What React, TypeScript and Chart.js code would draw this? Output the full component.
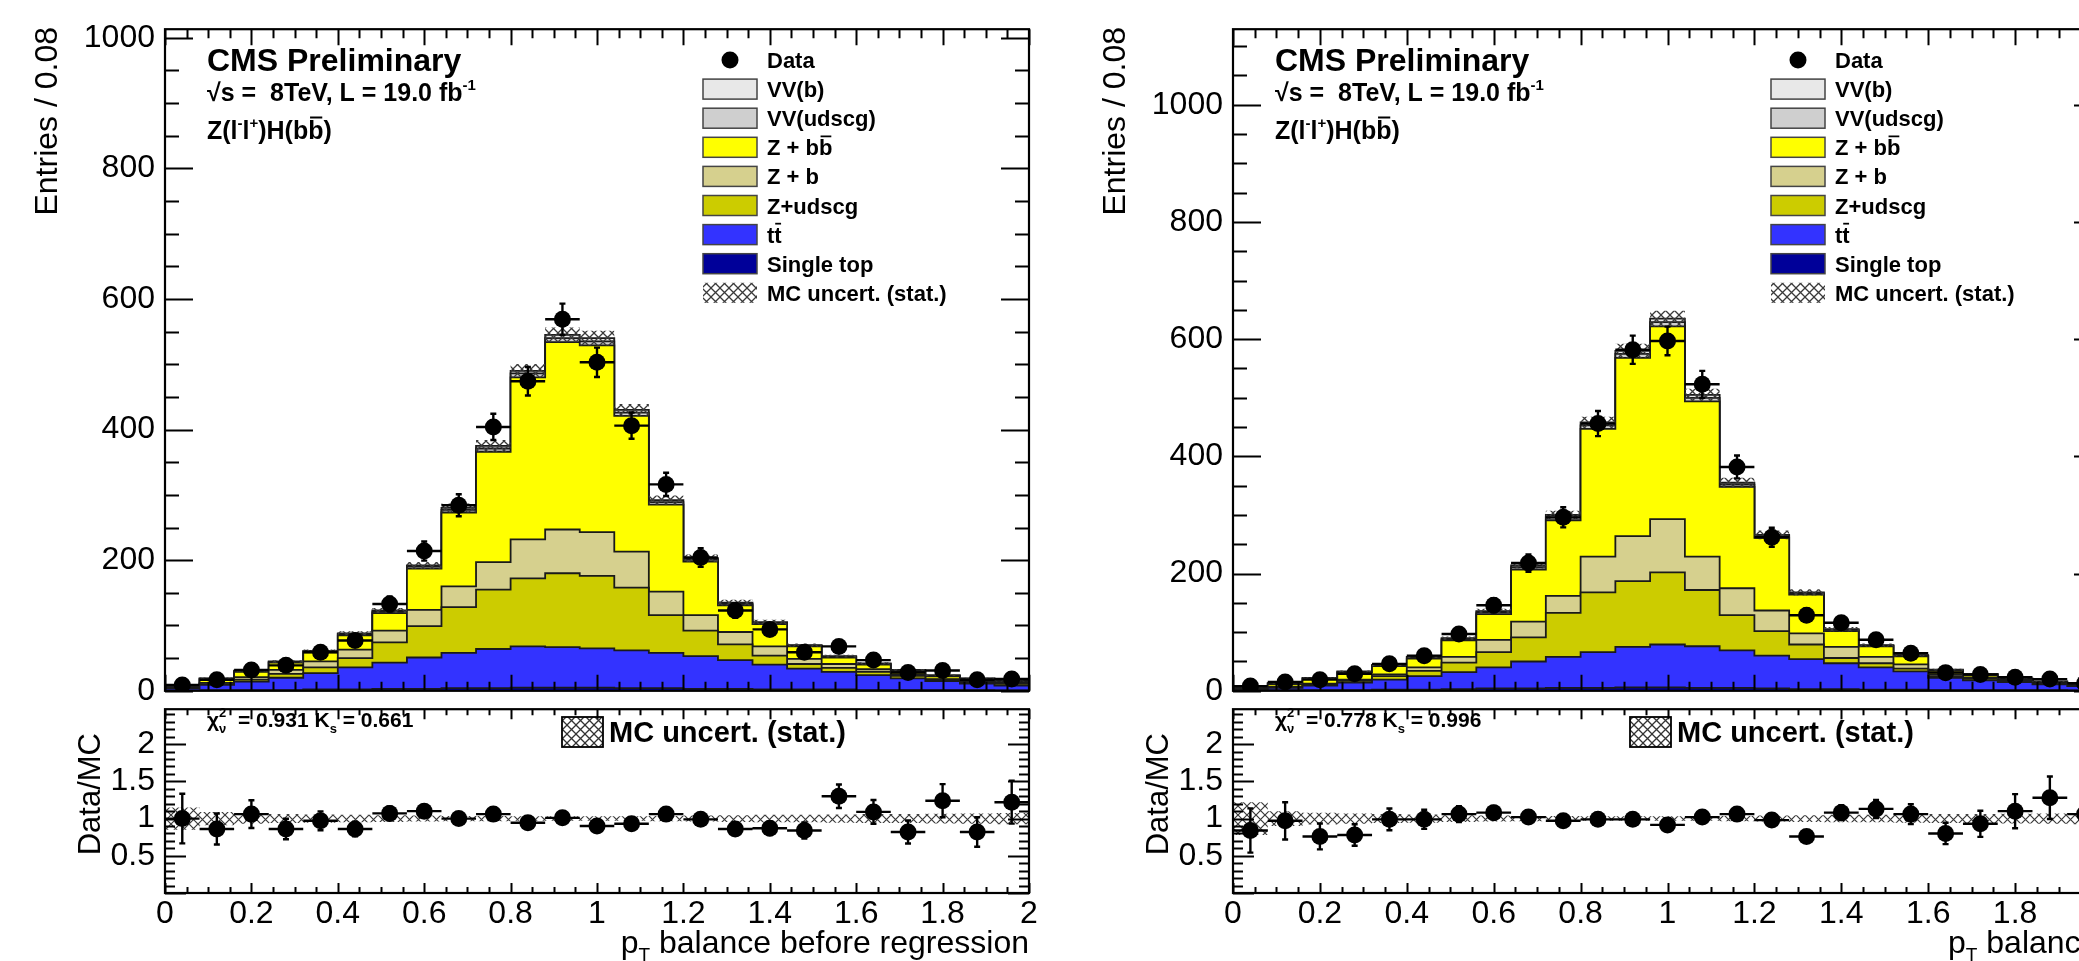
import React, { useEffect, useRef } from 'react';
import { Chart, registerables } from 'chart.js';

Chart.register(...registerables);

const FONT = "'Liberation Sans', Arial, Helvetica, sans-serif";

// ---------- binning (25 bins of 0.08) ----------
const BIN_EDGES = [0, 0.08, 0.16, 0.24, 0.32, 0.4, 0.48, 0.56, 0.64, 0.72, 0.8, 0.88, 0.96, 1.04, 1.12, 1.2, 1.28, 1.36, 1.44, 1.52, 1.6, 1.68, 1.76, 1.84, 1.92, 2.0];
const BIN_CENTERS = [0.04, 0.12, 0.2, 0.28, 0.36, 0.44, 0.52, 0.6, 0.68, 0.76, 0.84, 0.92, 1.0, 1.08, 1.16, 1.24, 1.32, 1.4, 1.48, 1.56, 1.64, 1.72, 1.8, 1.88, 1.96];
const BIN_HALF = 0.04;

// ---------- p_T balance before regression ----------
const BEFORE_SINGLE_TOP = [0.5, 1, 1, 1, 2, 2, 3, 3, 4, 4, 5, 5, 5, 4, 4, 3, 3, 2, 2, 2, 1, 1, 1, 1, 0.5];
const BEFORE_TTBAR = [3.5, 8, 13, 19, 25, 34, 40, 48, 54, 60, 63, 62, 60, 58, 54, 50, 44, 38, 32, 27, 23, 18, 14, 10, 7.5];
const BEFORE_Z_UDSCG = [0.5, 1, 3, 6, 9, 14, 31, 48, 70, 91, 104, 113, 111, 96, 58, 39, 24, 14, 7, 6, 5, 4, 2, 2, 2.5];
const BEFORE_Z_B = [0.5, 2, 4, 6, 9, 13, 18, 25, 32, 42, 60, 67, 67, 55, 36, 24, 19, 14, 8, 6, 4, 2, 1, 1, 0.5];
const BEFORE_Z_BB = [2, 5.5, 8, 11, 14, 22, 27, 63, 113, 169, 248, 287, 286, 208, 133, 82, 41, 34, 19, 10, 7, 5, 4, 3.5, 2.5];
const BEFORE_VV_UDSCG = [0.5, 1, 1, 1, 1, 2, 2, 3, 4, 5, 6, 6, 6, 5, 4, 3, 2, 2, 1, 1, 1, 1, 1, 1, 1];
const BEFORE_VV_B = [0.5, 0.5, 1, 1, 1, 1, 2, 2, 3, 4, 4, 5, 5, 4, 3, 2, 2, 1, 1, 1, 1, 1, 1, 0.5, 0.5];
const BEFORE_DATA = [9, 17, 32, 39, 59, 77, 133, 214, 284, 404, 474, 569, 503, 406, 316, 204, 123, 94, 59, 68, 47, 28, 31, 17, 18];
const BEFORE_RATIO = [1.0, 0.86, 1.06, 0.86, 0.97, 0.86, 1.07, 1.1, 1.0, 1.06, 0.945, 1.01, 0.9, 0.93, 1.06, 0.99, 0.86, 0.87, 0.84, 1.3, 1.09, 0.82, 1.24, 0.82, 1.22];
const BEFORE_MC_REL_ERR = [0.15, 0.09, 0.07, 0.06, 0.055, 0.05, 0.045, 0.04, 0.035, 0.035, 0.03, 0.03, 0.03, 0.03, 0.035, 0.04, 0.045, 0.05, 0.05, 0.055, 0.06, 0.06, 0.065, 0.07, 0.075];

// ---------- p_T balance after regression ----------
const AFTER_SINGLE_TOP = [0.5, 1, 1, 1, 2, 2, 3, 4, 4, 5, 5, 6, 6, 5, 5, 4, 3, 3, 2, 2, 1, 1, 1, 1, 0.5];
const AFTER_TTBAR = [2.5, 4, 8, 13, 17, 23, 29, 36, 46, 53, 61, 69, 73, 71, 64, 56, 51, 44, 38, 31, 21, 17, 14, 10, 7.5];
const AFTER_Z_UDSCG = [0.5, 1, 2, 3, 6, 9, 16, 26, 41, 75, 102, 112, 123, 96, 60, 42, 25, 9, 7, 5, 3, 3, 2, 1, 1];
const AFTER_Z_B = [0.5, 1, 1, 2, 3, 6, 10, 21, 27, 29, 61, 77, 91, 57, 46, 35, 19, 19, 11, 7, 3, 2, 1, 1, 1];
const AFTER_Z_BB = [2, 4.5, 8, 12, 14, 15, 28, 44, 89, 129, 218, 304, 329, 265, 173, 124, 66, 27, 18, 14, 6, 4, 1.5, 1.5, 1];
const AFTER_VV_UDSCG = [0.5, 1, 1, 1, 1, 2, 2, 3, 4, 5, 6, 7, 7, 6, 4, 3, 2, 2, 1, 1, 1, 1, 1, 1, 0.5];
const AFTER_VV_B = [0.5, 0.5, 1, 1, 1, 1, 2, 2, 3, 4, 5, 5, 6, 5, 3, 2, 2, 1, 1, 1, 1, 1, 0.5, 0.5, 0.5];
const AFTER_DATA = [8, 15, 19, 29, 46, 60, 97, 146, 218, 296, 456, 582, 597, 523, 382, 262, 129, 116, 87, 64, 31, 28, 23, 20, 13];
const AFTER_RATIO = [0.84, 0.97, 0.76, 0.78, 0.99, 0.99, 1.06, 1.08, 1.02, 0.97, 0.99, 0.99, 0.915, 1.02, 1.06, 0.98, 0.76, 1.08, 1.13, 1.06, 0.8, 0.93, 1.1, 1.28, 1.06];
const AFTER_MC_REL_ERR = [0.22, 0.1, 0.08, 0.07, 0.06, 0.055, 0.045, 0.04, 0.035, 0.035, 0.03, 0.03, 0.03, 0.03, 0.035, 0.04, 0.045, 0.05, 0.05, 0.055, 0.06, 0.06, 0.065, 0.07, 0.075];

// ---------- axis tick labels ----------
const MAIN_Y_TICKS = [0, 200, 400, 600, 800, 1000];
const RATIO_Y_TICKS = [0.5, 1, 1.5, 2];
const X_TICKS = [0, 0.2, 0.4, 0.6, 0.8, 1, 1.2, 1.4, 1.6, 1.8, 2];

// stack colours, bottom to top
const STACK_COLORS = ['#000099', '#3333ff', '#cccc00', '#d6d08e', '#ffff00', '#cfcfcf', '#e8e8e8'];

type Spec = {
  components: number[][];
  data: number[];
  ratio: number[];
  mcRelErr: number[];
  yMax: number;
  chi2: string;
  ks: string;
  xTitle: string;
};

type Geo = {
  canvasLeft: number;
  canvasWidth: number;
  frameLeft: number;
  frameRight: number;
  xTitleAlign: 'left' | 'right';
  xTitleX: number;
};

const BEFORE: Spec = {
  components: [BEFORE_SINGLE_TOP, BEFORE_TTBAR, BEFORE_Z_UDSCG, BEFORE_Z_B, BEFORE_Z_BB, BEFORE_VV_UDSCG, BEFORE_VV_B],
  data: BEFORE_DATA,
  ratio: BEFORE_RATIO,
  mcRelErr: BEFORE_MC_REL_ERR,
  yMax: 1013,
  chi2: '0.931',
  ks: '0.661',
  xTitle: 'balance before regression',
};

const AFTER: Spec = {
  components: [AFTER_SINGLE_TOP, AFTER_TTBAR, AFTER_Z_UDSCG, AFTER_Z_B, AFTER_Z_BB, AFTER_VV_UDSCG, AFTER_VV_B],
  data: AFTER_DATA,
  ratio: AFTER_RATIO,
  mcRelErr: AFTER_MC_REL_ERR,
  yMax: 1129,
  chi2: '0.778',
  ks: '0.996',
  xTitle: 'balance after regression',
};

const LEFT_GEO: Geo = { canvasLeft: 0, canvasWidth: 1040, frameLeft: 165, frameRight: 1029, xTitleAlign: 'right', xTitleX: 1029 };
const RIGHT_GEO: Geo = { canvasLeft: 1040, canvasWidth: 1100, frameLeft: 1233, frameRight: 2102, xTitleAlign: 'left', xTitleX: 1948 };

const MAIN_TOP = 0;
const MAIN_H = 720;
const MAIN_FRAME_TOP = 23;
const MAIN_FRAME_BOTTOM = 697;
const RATIO_TOP = 680;
const RATIO_H = 281;
const RATIO_FRAME_BOTTOM = 893;

// ---------- helpers ----------
function stepPoints(values: number[]) {
  return BIN_EDGES.map((x, i) => ({ x, y: values[Math.min(i, values.length - 1)] }));
}

function makeHatch(color: string, size: number, lw: number): CanvasPattern | string {
  const c = document.createElement('canvas');
  c.width = size;
  c.height = size;
  const g = c.getContext('2d');
  if (!g) return color;
  g.strokeStyle = color;
  g.lineWidth = lw;
  g.beginPath();
  g.moveTo(-1, -1);
  g.lineTo(size + 1, size + 1);
  g.moveTo(size + 1, -1);
  g.lineTo(-1, size + 1);
  g.stroke();
  return g.createPattern(c, 'repeat') || color;
}

type Run = { t: string; size: number; bold?: boolean; dy?: number; bar?: boolean; overlay?: boolean };

function setFont(ctx: CanvasRenderingContext2D, size: number, bold?: boolean) {
  ctx.font = `${bold ? 'bold ' : ''}${size}px ${FONT}`;
}

function layoutRuns(ctx: CanvasRenderingContext2D, x: number, y: number, runs: Run[], draw: boolean): number {
  let cx = x;
  let lastStart = x;
  let lastW = 0;
  for (const r of runs) {
    setFont(ctx, r.size, r.bold);
    const w = ctx.measureText(r.t).width;
    const sx = r.overlay ? lastStart : cx;
    if (draw) {
      ctx.fillText(r.t, sx, y + (r.dy || 0));
      if (r.bar) {
        const by = y + (r.dy || 0) - r.size * 0.86;
        ctx.save();
        ctx.lineWidth = Math.max(1.5, r.size * 0.08);
        ctx.strokeStyle = ctx.fillStyle as string;
        ctx.beginPath();
        ctx.moveTo(sx + w * 0.12, by);
        ctx.lineTo(sx + w * 0.92, by);
        ctx.stroke();
        ctx.restore();
      }
    }
    if (r.overlay) {
      const end = Math.max(lastStart + lastW, sx + w);
      lastW = end - lastStart;
      cx = end;
    } else {
      lastStart = sx;
      lastW = w;
      cx = sx + w;
    }
  }
  return cx - x;
}

function drawRuns(ctx: CanvasRenderingContext2D, x: number, y: number, runs: Run[], align: 'left' | 'right' = 'left') {
  ctx.textAlign = 'left';
  ctx.textBaseline = 'alphabetic';
  ctx.fillStyle = '#000';
  const w = layoutRuns(ctx, 0, 0, runs, false);
  const sx = align === 'right' ? x - w : x;
  layoutRuns(ctx, sx, y, runs, true);
}

function drawVerticalTitle(ctx: CanvasRenderingContext2D, text: string, cx: number, topY: number, size: number) {
  ctx.save();
  ctx.translate(cx, topY);
  ctx.rotate(-Math.PI / 2);
  setFont(ctx, size, false);
  ctx.fillStyle = '#000';
  ctx.textAlign = 'right';
  ctx.textBaseline = 'middle';
  ctx.fillText(text, 0, 0);
  ctx.restore();
}

// frame + inward ticks on all four sides
function framePlugin(o: { xMinor: number; xPer: number; xMaj: number; xMin: number; yMinor: number; yPer: number; yMaj: number; yMin: number }) {
  return {
    id: 'rootFrame',
    afterDraw(chart: any) {
      const { ctx, chartArea: a, scales } = chart;
      const xs = scales.x;
      const ys = scales.y;
      ctx.save();
      ctx.strokeStyle = '#000';
      ctx.lineWidth = 2;
      ctx.lineCap = 'butt';
      ctx.beginPath();
      const nx = Math.round((xs.max - xs.min) / o.xMinor);
      for (let k = 0; k <= nx; k++) {
        const px = Math.round(xs.getPixelForValue(xs.min + k * o.xMinor)) + 0.5;
        const len = k % o.xPer === 0 ? o.xMaj : o.xMin;
        ctx.moveTo(px, a.bottom);
        ctx.lineTo(px, a.bottom - len);
        ctx.moveTo(px, a.top);
        ctx.lineTo(px, a.top + len);
      }
      const ny = Math.floor((ys.max - ys.min) / o.yMinor + 1e-6);
      for (let k = 0; k <= ny; k++) {
        const py = Math.round(ys.getPixelForValue(ys.min + k * o.yMinor)) + 0.5;
        const len = k % o.yPer === 0 ? o.yMaj : o.yMin;
        ctx.moveTo(a.left, py);
        ctx.lineTo(a.left + len, py);
        ctx.moveTo(a.right, py);
        ctx.lineTo(a.right - len, py);
      }
      ctx.stroke();
      ctx.lineWidth = 2.2;
      ctx.strokeRect(a.left, a.top, a.right - a.left, a.bottom - a.top);
      ctx.restore();
    },
  };
}

// horizontal (bin width) and vertical (statistical) error bars on the data points
function errorBarPlugin(values: number[], errs: number[]) {
  return {
    id: 'errorBars',
    afterDatasetsDraw(chart: any) {
      const { ctx, chartArea: a, scales } = chart;
      const xs = scales.x;
      const ys = scales.y;
      ctx.save();
      ctx.beginPath();
      ctx.rect(a.left, a.top, a.right - a.left, a.bottom - a.top);
      ctx.clip();
      ctx.strokeStyle = '#000';
      ctx.lineWidth = 2.4;
      ctx.beginPath();
      values.forEach((v, i) => {
        const c = BIN_CENTERS[i];
        const px = xs.getPixelForValue(c);
        const py = ys.getPixelForValue(v);
        ctx.moveTo(xs.getPixelForValue(c - BIN_HALF), py);
        ctx.lineTo(xs.getPixelForValue(c + BIN_HALF), py);
        const top = ys.getPixelForValue(v + errs[i]);
        const bot = ys.getPixelForValue(Math.max(0, v - errs[i]));
        ctx.moveTo(px, top);
        ctx.lineTo(px, bot);
        ctx.moveTo(px - 3, top);
        ctx.lineTo(px + 3, top);
        ctx.moveTo(px - 3, bot);
        ctx.lineTo(px + 3, bot);
      });
      ctx.stroke();
      ctx.restore();
    },
  };
}

function drawPlugin(fn: (ctx: CanvasRenderingContext2D) => void) {
  return {
    id: 'panelText',
    afterDraw(chart: any) {
      const ctx = chart.ctx as CanvasRenderingContext2D;
      ctx.save();
      fn(ctx);
      ctx.restore();
    },
  };
}

const tickFmt = (v: any) => String(+Number(v).toFixed(2));
const fixedTicks = (values: number[]) => (sc: any) => {
  sc.ticks = values.map((value) => ({ value }));
};

const MARKER_R = 8.5;

function buildMain(canvas: HTMLCanvasElement, s: Spec, g: Geo) {
  const hatch = makeHatch('#3a3a3a', 9, 1.3);
  const datasets: any[] = [];
  let cum = new Array(s.components[0].length).fill(0);
  s.components.forEach((comp, k) => {
    cum = cum.map((v: number, i: number) => v + comp[i]);
    datasets.push({
      type: 'line',
      data: stepPoints(cum),
      stepped: true,
      fill: k === 0 ? 'origin' : '-1',
      backgroundColor: STACK_COLORS[k],
      borderColor: '#1a1a1a',
      borderWidth: 1.8,
      pointRadius: 0,
      order: 10 + k,
    });
  });
  const total = cum;
  datasets.push({
    type: 'line',
    data: stepPoints(total.map((v: number, i: number) => v * (1 + s.mcRelErr[i] * 0.7))),
    stepped: true,
    fill: false,
    borderWidth: 0,
    borderColor: 'rgba(0,0,0,0)',
    pointRadius: 0,
    order: 5,
  });
  datasets.push({
    type: 'line',
    data: stepPoints(total.map((v: number, i: number) => v * (1 - s.mcRelErr[i] * 0.7))),
    stepped: true,
    fill: '-1',
    backgroundColor: hatch,
    borderWidth: 0,
    borderColor: 'rgba(0,0,0,0)',
    pointRadius: 0,
    order: 4,
  });
  datasets.push({
    type: 'line',
    data: BIN_CENTERS.map((x, i) => ({ x, y: s.data[i] })),
    showLine: false,
    pointRadius: MARKER_R,
    pointHoverRadius: MARKER_R,
    pointBackgroundColor: '#000',
    pointBorderColor: '#000',
    pointBorderWidth: 0,
    order: 0,
  });

  const ox = g.canvasLeft;
  const oy = MAIN_TOP;
  const fl = g.frameLeft - ox;

  const legendRows: { kind: 'marker' | 'box' | 'hatch'; color?: string; runs: Run[] }[] = [
    { kind: 'marker', runs: [{ t: 'Data', size: 22, bold: true }] },
    { kind: 'box', color: STACK_COLORS[6], runs: [{ t: 'VV(b)', size: 22, bold: true }] },
    { kind: 'box', color: STACK_COLORS[5], runs: [{ t: 'VV(udscg)', size: 22, bold: true }] },
    { kind: 'box', color: STACK_COLORS[4], runs: [{ t: 'Z + b', size: 22, bold: true }, { t: 'b', size: 22, bold: true, bar: true }] },
    { kind: 'box', color: STACK_COLORS[3], runs: [{ t: 'Z + b', size: 22, bold: true }] },
    { kind: 'box', color: STACK_COLORS[2], runs: [{ t: 'Z+udscg', size: 22, bold: true }] },
    { kind: 'box', color: STACK_COLORS[1], runs: [{ t: 't', size: 22, bold: true }, { t: 't', size: 22, bold: true, bar: true }] },
    { kind: 'box', color: STACK_COLORS[0], runs: [{ t: 'Single top', size: 22, bold: true }] },
    { kind: 'hatch', runs: [{ t: 'MC uncert. (stat.)', size: 22, bold: true }] },
  ];

  const texts = drawPlugin((ctx) => {
    drawVerticalTitle(ctx, 'Entries / 0.08', fl - 117, 27 - oy, 32);
    drawRuns(ctx, fl + 42, 71 - oy, [{ t: 'CMS Preliminary', size: 32, bold: true }]);
    drawRuns(ctx, fl + 42, 101 - oy, [
      { t: '\u221As =  8TeV, L = 19.0 fb', size: 25, bold: true },
      { t: '-1', size: 15, bold: true, dy: -11 },
    ]);
    drawRuns(ctx, fl + 42, 139 - oy, [
      { t: 'Z(l', size: 25, bold: true },
      { t: '-', size: 15, bold: true, dy: -11 },
      { t: 'l', size: 25, bold: true },
      { t: '+', size: 15, bold: true, dy: -11 },
      { t: ')H(b', size: 25, bold: true },
      { t: 'b', size: 25, bold: true, bar: true },
      { t: ')', size: 25, bold: true },
    ]);
    // legend
    const bx = fl + 538;
    const bw = 54;
    const tx = fl + 602;
    legendRows.forEach((row, i) => {
      const cy = 60 + 29.1 * i - oy;
      if (row.kind === 'marker') {
        ctx.fillStyle = '#000';
        ctx.beginPath();
        ctx.arc(bx + bw / 2, cy, MARKER_R, 0, Math.PI * 2);
        ctx.fill();
      } else if (row.kind === 'box') {
        ctx.fillStyle = row.color as string;
        ctx.fillRect(bx, cy - 10, bw, 20);
        ctx.strokeStyle = '#444';
        ctx.lineWidth = 1.5;
        ctx.strokeRect(bx, cy - 10, bw, 20);
      } else {
        ctx.fillStyle = makeHatch('#3a3a3a', 9, 1.3);
        ctx.fillRect(bx, cy - 10, bw, 20);
      }
      drawRuns(ctx, tx, cy + 8, row.runs);
    });
  });

  return new Chart(canvas, {
    type: 'line',
    data: { datasets },
    options: {
      animation: false,
      responsive: false,
      devicePixelRatio: 1,
      events: [],
      layout: {
        padding: {
          left: 0,
          right: g.canvasWidth - (g.frameRight - ox),
          top: MAIN_FRAME_TOP - oy,
          bottom: MAIN_H - (MAIN_FRAME_BOTTOM - oy),
        },
      },
      plugins: { legend: { display: false }, tooltip: { enabled: false } },
      scales: {
        x: { type: 'linear', min: 0, max: 2, display: false },
        y: {
          type: 'linear',
          min: 0,
          max: s.yMax,
          afterBuildTicks: fixedTicks(MAIN_Y_TICKS),
          afterFit: (sc: any) => {
            sc.width = fl;
          },
          grid: { display: false, drawTicks: false },
          border: { display: false },
          ticks: {
            padding: 10,
            color: '#000',
            font: { size: 32, family: FONT },
            callback: tickFmt,
          },
        },
      },
    } as any,
    plugins: [
      framePlugin({ xMinor: 0.05, xPer: 4, xMaj: 16, xMin: 9, yMinor: 50, yPer: 4, yMaj: 28, yMin: 14 }),
      errorBarPlugin(s.data, s.data.map((v) => Math.sqrt(v))),
      texts,
    ] as any,
  });
}

function buildRatio(canvas: HTMLCanvasElement, s: Spec, g: Geo) {
  const hatch = makeHatch('#3a3a3a', 9, 1.2);
  const ox = g.canvasLeft;
  const oy = RATIO_TOP;
  const fl = g.frameLeft - ox;
  const datasets: any[] = [
    {
      type: 'line',
      data: stepPoints(s.mcRelErr.map((e) => 1 + e)),
      stepped: true,
      fill: false,
      borderWidth: 0,
      borderColor: 'rgba(0,0,0,0)',
      pointRadius: 0,
      order: 5,
    },
    {
      type: 'line',
      data: stepPoints(s.mcRelErr.map((e) => 1 - e)),
      stepped: true,
      fill: '-1',
      backgroundColor: hatch,
      borderWidth: 0,
      borderColor: 'rgba(0,0,0,0)',
      pointRadius: 0,
      order: 4,
    },
    {
      type: 'line',
      data: BIN_CENTERS.map((x, i) => ({ x, y: s.ratio[i] })),
      showLine: false,
      pointRadius: MARKER_R,
      pointHoverRadius: MARKER_R,
      pointBackgroundColor: '#000',
      pointBorderColor: '#000',
      pointBorderWidth: 0,
      order: 0,
    },
  ];

  const texts = drawPlugin((ctx) => {
    drawVerticalTitle(ctx, 'Data/MC', fl - 74, 733 - oy, 31);
    drawRuns(ctx, fl + 42, 727 - oy, [
      { t: '\u03C7', size: 21, bold: true },
      { t: '2', size: 13, bold: true, dy: -10 },
      { t: '\u03BD', size: 13, bold: true, dy: 6, overlay: true },
      { t: '  = ' + s.chi2 + ' K', size: 21, bold: true },
      { t: 's', size: 13, bold: true, dy: 6 },
      { t: ' = ' + s.ks, size: 21, bold: true },
    ]);
    const bx = fl + 397;
    ctx.fillStyle = makeHatch('#333', 9, 1.3);
    ctx.fillRect(bx, 717 - oy, 41, 30);
    ctx.strokeStyle = '#000';
    ctx.lineWidth = 1.8;
    ctx.strokeRect(bx, 717 - oy, 41, 30);
    drawRuns(ctx, fl + 444, 742 - oy, [{ t: 'MC uncert. (stat.)', size: 29, bold: true }]);
    // x-axis title
    drawRuns(
      ctx,
      g.xTitleX - ox,
      953 - oy,
      [
        { t: 'p', size: 32 },
        { t: 'T', size: 19, dy: 8 },
        { t: ' ' + s.xTitle, size: 32 },
      ],
      g.xTitleAlign
    );
  });

  return new Chart(canvas, {
    type: 'line',
    data: { datasets },
    options: {
      animation: false,
      responsive: false,
      devicePixelRatio: 1,
      events: [],
      layout: {
        padding: {
          left: 0,
          right: g.canvasWidth - (g.frameRight - ox),
          top: MAIN_FRAME_BOTTOM - oy,
          bottom: 0,
        },
      },
      plugins: { legend: { display: false }, tooltip: { enabled: false } },
      scales: {
        x: {
          type: 'linear',
          min: 0,
          max: 2,
          afterBuildTicks: fixedTicks(X_TICKS),
          afterFit: (sc: any) => {
            sc.height = RATIO_H - (RATIO_FRAME_BOTTOM - oy);
          },
          grid: { display: false, drawTicks: false },
          border: { display: false },
          ticks: {
            padding: 2,
            maxRotation: 0,
            autoSkip: false,
            color: '#000',
            font: { size: 32, family: FONT },
            callback: tickFmt,
          },
        },
        y: {
          type: 'linear',
          min: 0,
          max: 2.47,
          afterBuildTicks: fixedTicks(RATIO_Y_TICKS),
          afterFit: (sc: any) => {
            sc.width = fl;
          },
          grid: { display: false, drawTicks: false },
          border: { display: false },
          ticks: {
            padding: 10,
            color: '#000',
            font: { size: 32, family: FONT },
            callback: tickFmt,
          },
        },
      },
    } as any,
    plugins: [
      framePlugin({ xMinor: 0.05, xPer: 4, xMaj: 10, xMin: 6, yMinor: 0.1, yPer: 5, yMaj: 21, yMin: 10 }),
      errorBarPlugin(s.ratio, s.ratio.map((r, i) => r / Math.sqrt(s.data[i]))),
      texts,
    ] as any,
  });
}

export default function App() {
  const mainL = useRef<HTMLCanvasElement>(null);
  const ratioL = useRef<HTMLCanvasElement>(null);
  const mainR = useRef<HTMLCanvasElement>(null);
  const ratioR = useRef<HTMLCanvasElement>(null);

  useEffect(() => {
    const charts: Chart[] = [];
    if (mainL.current) charts.push(buildMain(mainL.current, BEFORE, LEFT_GEO));
    if (ratioL.current) charts.push(buildRatio(ratioL.current, BEFORE, LEFT_GEO));
    if (mainR.current) charts.push(buildMain(mainR.current, AFTER, RIGHT_GEO));
    if (ratioR.current) charts.push(buildRatio(ratioR.current, AFTER, RIGHT_GEO));
    return () => charts.forEach((c) => c.destroy());
  }, []);

  const cv = (left: number, top: number, w: number, h: number): React.CSSProperties => ({
    position: 'absolute',
    left,
    top,
    width: w,
    height: h,
  });

  return (
    <div style={{ position: 'fixed', left: 0, top: 0, width: 2079, height: 961, overflow: 'hidden', background: '#fff' }}>
      <canvas ref={mainL} width={LEFT_GEO.canvasWidth} height={MAIN_H} style={cv(LEFT_GEO.canvasLeft, MAIN_TOP, LEFT_GEO.canvasWidth, MAIN_H)} />
      <canvas ref={ratioL} width={LEFT_GEO.canvasWidth} height={RATIO_H} style={cv(LEFT_GEO.canvasLeft, RATIO_TOP, LEFT_GEO.canvasWidth, RATIO_H)} />
      <canvas ref={mainR} width={RIGHT_GEO.canvasWidth} height={MAIN_H} style={cv(RIGHT_GEO.canvasLeft, MAIN_TOP, RIGHT_GEO.canvasWidth, MAIN_H)} />
      <canvas ref={ratioR} width={RIGHT_GEO.canvasWidth} height={RATIO_H} style={cv(RIGHT_GEO.canvasLeft, RATIO_TOP, RIGHT_GEO.canvasWidth, RATIO_H)} />
    </div>
  );
}
